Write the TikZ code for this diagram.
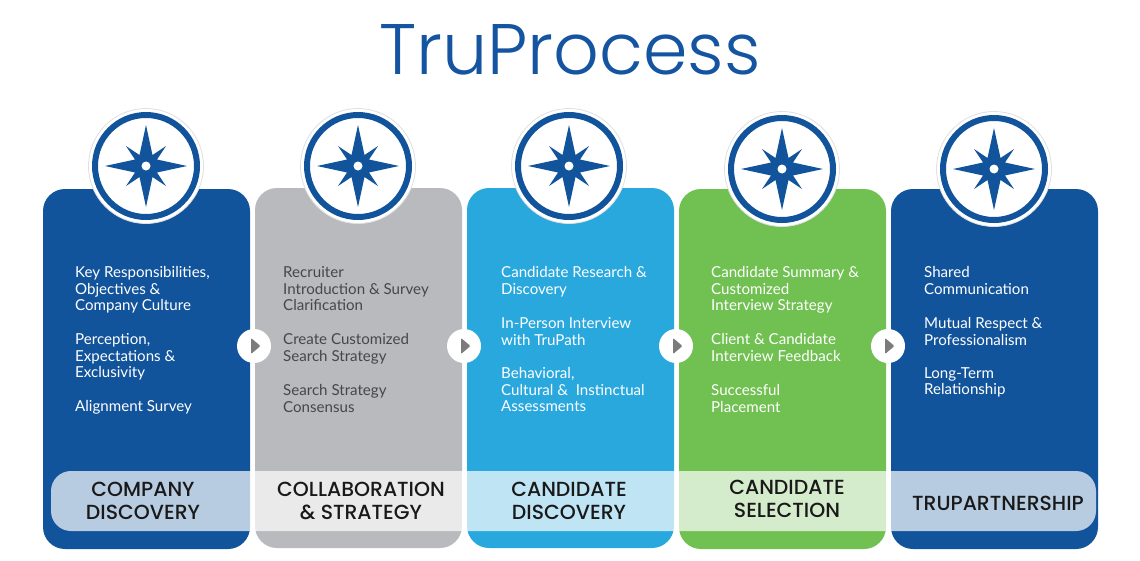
\documentclass[tikz,border=0pt]{standalone}
\usepackage{fontspec}
\setmainfont{Lato}
\newfontfamily\titlefont{Poppins Light}
\newfontfamily\labelfont{Poppins Medium}
\definecolor{bluedark}{RGB}{18,84,155}
\definecolor{greycard}{RGB}{185,186,189}
\definecolor{bluelight}{RGB}{41,168,222}
\definecolor{greencard}{RGB}{112,192,82}
\definecolor{titleblue}{RGB}{20,84,160}
\definecolor{darktext}{RGB}{70,70,76}
\definecolor{arrowgrey}{RGB}{125,122,124}
\tikzset{
  x=1pt,y=-1pt,
  card/.style={rounded corners=22pt,draw=none},
  body/.style={anchor=north west,inner sep=0pt,align=left,font=\fontsize{15.1}{16.8}\selectfont},
  bandlabel/.style={inner sep=0pt,align=center,text=black!90,font=\labelfont\fontsize{20.4}{23.5}\selectfont},
  playbtn/.style={circle,fill=white,minimum size=34pt,inner sep=0pt},
  compassdisc/.style={circle,fill=white,draw=black!12,line width=.8pt,minimum size=115pt,inner sep=0pt},
  compassring/.style={circle,fill=white,draw=bluedark,line width=6pt,minimum size=102pt,inner sep=0pt},
}
\newcommand{\compass}[3]{%
  \node[compassdisc] (#3d) at (#1,#2) {};
  \node[compassring] (#3r) at (#1,#2) {};
  \begin{scope}[shift={(#1,#2)}]
  \fill[bluedark] (0,-41) -- (6.5,-11) -- (20,-20) -- (11,-6.5) -- (41,0) -- (11,6.5) -- (20,20) -- (6.5,11)
    -- (0,41) -- (-6.5,11) -- (-20,20) -- (-11,6.5) -- (-41,0) -- (-11,-6.5) -- (-20,-20) -- (-6.5,-11) -- cycle;
  \fill[white] (0,0) circle (4.5);
  \end{scope}
}
\newcommand{\play}[3]{%
  \node[playbtn] (#3) at (#1,#2) {};
  \fill[arrowgrey,rounded corners=1pt] (#1-3,#2-8) -- (#1+6.5,#2) -- (#1-3,#2+8) -- cycle;
}
\begin{document}
\begin{tikzpicture}
\useasboundingbox[fill=white] (0,0) rectangle (1140,560);
\node[text=titleblue,inner sep=0pt,font=\titlefont\fontsize{71.5}{80}\selectfont] (title) at (570,50) {TruProcess};
\fill[bluedark,card] (43,189) rectangle (250,549);
\fill[greycard,card] (255,188) rectangle (462,548);
\fill[bluelight,card] (467,188) rectangle (674,548);
\fill[greencard,card] (679,189) rectangle (886,549);
\fill[bluedark,card] (891,189) rectangle (1098,549);
\fill[white,fill opacity=.7,rounded corners=20pt] (51,471) rectangle (1096,531);
\compass{146}{166}{a}
\compass{358}{166}{b}
\compass{569}{166}{c}
\compass{782}{169}{d}
\compass{994}{169}{e}
\play{254}{346}{p1}
\play{464}{346}{p2}
\play{676}{346}{p3}
\play{888}{346}{p4}
\node[body,text=white] (a1) at (75,266) {Key Responsibilities,\\Objectives \&\\Company Culture};
\node[body,text=white] (a2) at (75,333) {Perception,\\Expectations \&\\Exclusivity};
\node[body,text=white] (a3) at (75,400) {Alignment Survey};
\node[body,text=darktext] (b1) at (283,266) {Recruiter\\Introduction \& Survey\\Clarification};
\node[body,text=darktext] (b2) at (283,333) {Create Customized\\Search Strategy};
\node[body,text=darktext] (b3) at (283,384) {Search Strategy\\Consensus};
\node[body,text=white] (c1) at (501,266) {Candidate Research \&\\Discovery};
\node[body,text=white] (c2) at (501,317) {In-Person Interview\\with TruPath};
\node[body,text=white] (c3) at (501,367) {Behavioral,\\Cultural \&\ \ Instinctual\\Assessments};
\node[body,text=white] (d1) at (711,266) {Candidate Summary \&\\Customized\\Interview Strategy};
\node[body,text=white] (d2) at (711,333) {Client \& Candidate\\Interview Feedback};
\node[body,text=white] (d3) at (711,384) {Successful\\Placement};
\node[body,text=white] (e1) at (924,266) {Shared\\Communication};
\node[body,text=white] (e2) at (924,317) {Mutual Respect \&\\Professionalism};
\node[body,text=white] (e3) at (924,367) {Long-Term\\Relationship};
\node[bandlabel] (la) at (143,501) {COMPANY\\DISCOVERY};
\node[bandlabel] (lb) at (361,501) {COLLABORATION\\\& STRATEGY};
\node[bandlabel] (lc) at (569,501) {CANDIDATE\\DISCOVERY};
\node[bandlabel] (ld) at (787,499) {CANDIDATE\\SELECTION};
\node[bandlabel] (le) at (998,503) {TRUPARTNERSHIP};
\end{tikzpicture}
\end{document}
